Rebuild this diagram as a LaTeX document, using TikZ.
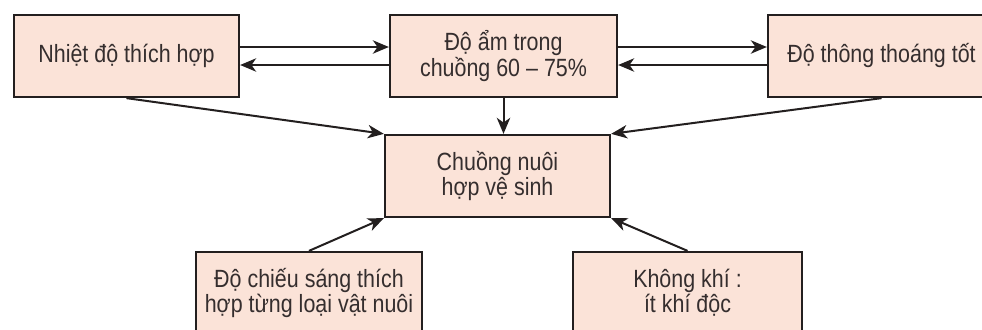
\documentclass[tikz,border=0pt]{standalone}
\usepackage{fontspec}
\setmainfont[FakeStretch=0.86]{Liberation Sans}
\usetikzlibrary{arrows.meta,calc}
\definecolor{boxfill}{HTML}{FBE3D8}
\definecolor{boxline}{HTML}{231F1F}
\definecolor{txt}{HTML}{352E2E}
\begin{document}
\begin{tikzpicture}[x=0.75pt,y=-0.75pt,
  box/.style={draw=boxline,line width=1.7pt,fill=boxfill,text=txt,align=center,
    font=\fontsize{18.7}{19}\selectfont,inner sep=0pt,minimum height=61.5pt},
  arr/.style={draw=boxline,line width=1.5pt,-{Stealth[length=12pt,width=10pt,inset=3.5pt]}}]
\useasboundingbox (0,0) rectangle (982,329);
\clip (0,0) rectangle (982,329);
\fill[white] (0,0) rectangle (982,329);
\node[box,minimum width=168.75pt] (b1) at (126.5,56) {Nhiệt độ thích hợp};
\node[box,minimum width=170.25pt] (b2) at (503.5,56) {Độ ẩm trong\\chuồng 60 -- 75\%};
\node[box,minimum width=170.25pt] (b3) at (881.5,56) {Độ thông thoáng tốt};
\node[box,minimum width=168.75pt] (c) at (497.5,176) {Chuồng nuôi\\hợp vệ sinh};
\node[box,minimum width=169.5pt] (bl) at (309,293) {Độ chiếu sáng thích\\hợp từng loại vật nuôi};
\node[box,minimum width=171.75pt] (br) at (687.5,293) {Không khí :\\ít khí độc};
% horizontal pairs
\draw[arr] ($(b1.east)+(0,-9)$) -- ($(b2.west)+(0,-9)$);
\draw[arr] ($(b2.west)+(0,9)$) -- ($(b1.east)+(0,9)$);
\draw[arr] ($(b2.east)+(0,-9)$) -- ($(b3.west)+(0,-9)$);
\draw[arr] ($(b3.west)+(0,9)$) -- ($(b2.east)+(0,9)$);
% to center
\draw[arr] (b2.south) -- (b2.south |- c.north);
\draw[arr] (b1.south) -- (c.north west);
\draw[arr] (b3.south) -- (c.north east);
\draw[arr] (bl.north) -- (c.south west);
\draw[arr] (br.north) -- (c.south east);
\end{tikzpicture}
\end{document}
